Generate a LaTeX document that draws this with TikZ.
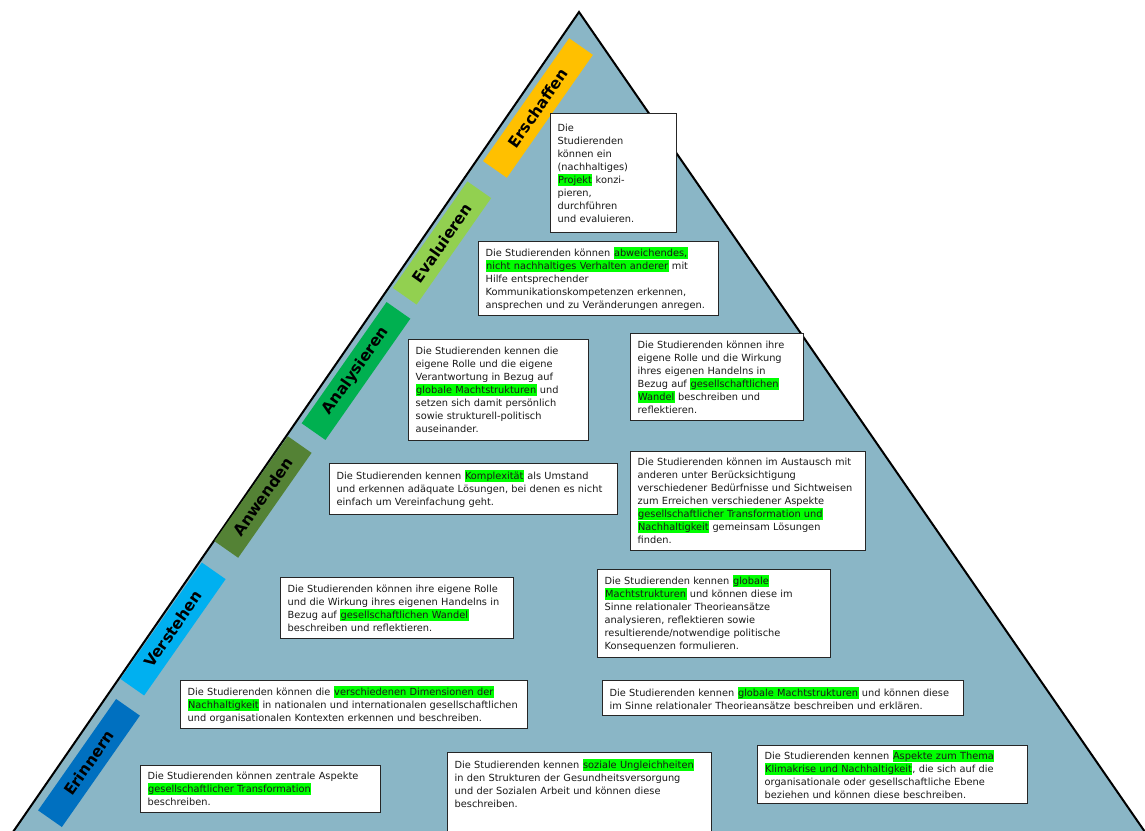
\documentclass[tikz,border=0pt]{standalone}
\usepackage{fontspec}
\setmainfont{DejaVu Sans}
\usepackage{tikz}
\usetikzlibrary{shapes,positioning}
\definecolor{pyrblau}{RGB}{138,182,198}
\definecolor{hlgruen}{RGB}{0,255,0}
\definecolor{cErschaffen}{RGB}{255,192,0}
\definecolor{cEvaluieren}{RGB}{146,208,80}
\definecolor{cAnalysieren}{RGB}{0,176,80}
\definecolor{cAnwenden}{RGB}{84,130,53}
\definecolor{cVerstehen}{RGB}{0,176,240}
\definecolor{cErinnern}{RGB}{0,112,192}
\newcommand{\gruen}[1]{\begingroup\setlength{\fboxsep}{0.5pt}\colorbox{hlgruen}{\vphantom{Äg}#1}\endgroup}
\newcommand{\zielfont}{\fontsize{9.8}{13}\selectfont}
\newcommand{\stufew}{1.3pt}

\begin{document}
\begin{tikzpicture}[x=1pt, y=-1pt,
    pyramide/.style = {draw=black, line width=2pt, fill=pyrblau},
    stufe/.style = {rotate=55, minimum height=29pt, inner sep=0pt, font=\fontsize{15.5}{17}\selectfont\bfseries, text=black},
    ziel/.style = {draw=black!85, line width=\stufew, fill=white, anchor=north west, align=left,
        inner xsep=7pt, inner ysep=4pt, font=\zielfont, text=black!90}]
    \useasboundingbox (0,0) rectangle (1145,830);
    \draw[pyramide] (579,12) -- (4,845) -- (1154,845) -- cycle;

    \node[stufe, fill=cErschaffen, minimum width=150pt] (erschaffen) at (538,108) {Erschaffen};
    \node[stufe, fill=cEvaluieren, minimum width=130pt] (evaluieren) at (442,243) {Evaluieren};
    \node[stufe, fill=cAnalysieren, minimum width=148pt] (analysieren) at (356,371) {Analysieren};
    \node[stufe, fill=cAnwenden, minimum width=128pt] (anwenden) at (263,497) {Anwenden};
    \node[stufe, fill=cVerstehen, minimum width=142pt] (verstehen) at (173,629) {Verstehen};
    \node[stufe, fill=cErinnern, minimum width=136pt] (erinnern) at (89,763) {Erinnern};

    \node[ziel, text width=112pt, minimum height=119pt] (projekt) at (550,113)
        {Die\\ Studierenden\\ können ein\\ (nachhaltiges)\\ \gruen{Projekt} konzi-\\ pieren,\\ durchführen\\ und evaluieren.};
    \node[ziel, text width=226pt, minimum height=74pt] (verhalten) at (478,241)
        {Die Studierenden können \gruen{abweichendes,}\\ \gruen{nicht nachhaltiges Verhalten anderer} mit\\ Hilfe entsprechender\\ Kommunikationskompetenzen erkennen,\\ ansprechen und zu Veränderungen anregen.};
    \node[ziel, text width=166pt, minimum height=101pt] (verantwortung) at (408,339)
        {Die Studierenden kennen die\\ eigene Rolle und die eigene\\ Verantwortung in Bezug auf\\ \gruen{globale Machtstrukturen} und\\ setzen sich damit persönlich\\ sowie strukturell-politisch\\ auseinander.};
    \node[ziel, text width=159pt, minimum height=87pt] (rolleA) at (630,333)
        {Die Studierenden können ihre\\ eigene Rolle und die Wirkung\\ ihres eigenen Handelns in\\ Bezug auf \gruen{gesellschaftlichen}\\ \gruen{Wandel} beschreiben und\\ reflektieren.};
    \node[ziel, text width=274pt, minimum height=51pt] (komplex) at (329,463)
        {Die Studierenden kennen \gruen{Komplexität} als Umstand\\ und erkennen adäquate Lösungen, bei denen es nicht\\ einfach um Vereinfachung geht.};
    \node[ziel, text width=221pt, minimum height=99pt] (austausch) at (630,451)
        {Die Studierenden können im Austausch mit\\ anderen unter Berücksichtigung\\ verschiedener Bedürfnisse und Sichtweisen\\ zum Erreichen verschiedener Aspekte\\ \gruen{gesellschaftlicher Transformation und}\\ \gruen{Nachhaltigkeit} gemeinsam Lösungen\\ finden.};
    \node[ziel, text width=219pt, minimum height=61pt] (rolleB) at (280,577)
        {Die Studierenden können ihre eigene Rolle\\ und die Wirkung ihres eigenen Handelns in\\ Bezug auf \gruen{gesellschaftlichen Wandel}\\ beschreiben und reflektieren.};
    \node[ziel, text width=219pt, minimum height=88pt] (machtA) at (597,569)
        {Die Studierenden kennen \gruen{globale}\\ \gruen{Machtstrukturen} und können diese im\\ Sinne relationaler Theorieansätze\\ analysieren, reflektieren sowie\\ resultierende/notwendige politische\\ Konsequenzen formulieren.};
    \node[ziel, text width=333pt, minimum height=48pt] (dimensionen) at (180,680)
        {Die Studierenden können die \gruen{verschiedenen Dimensionen der}\\ \gruen{Nachhaltigkeit} in nationalen und internationalen gesellschaftlichen\\ und organisationalen Kontexten erkennen und beschreiben.};
    \node[ziel, text width=347pt, minimum height=35pt] (machtB) at (602,680)
        {Die Studierenden kennen \gruen{globale Machtstrukturen} und können diese\\ im Sinne relationaler Theorieansätze beschreiben und erklären.};
    \node[ziel, text width=226pt, minimum height=47pt] (transformation) at (140,765)
        {Die Studierenden können zentrale Aspekte\\ \gruen{gesellschaftlicher Transformation}\\ beschreiben.};
    \node[ziel, text width=250pt, inner ysep=6pt] (ungleichheit) at (447,752)
        {Die Studierenden kennen \gruen{soziale Ungleichheiten}\\ in den Strukturen der Gesundheitsversorgung\\ und der Sozialen Arbeit und können diese\\ beschreiben.\\[8pt] \mbox{}};
    \node[ziel, text width=256pt, minimum height=58pt] (klima) at (757,745)
        {Die Studierenden kennen \gruen{Aspekte zum Thema}\\ \gruen{Klimakrise und Nachhaltigkeit}, die sich auf die\\ organisationale oder gesellschaftliche Ebene\\ beziehen und können diese beschreiben.};
\end{tikzpicture}
\end{document}
